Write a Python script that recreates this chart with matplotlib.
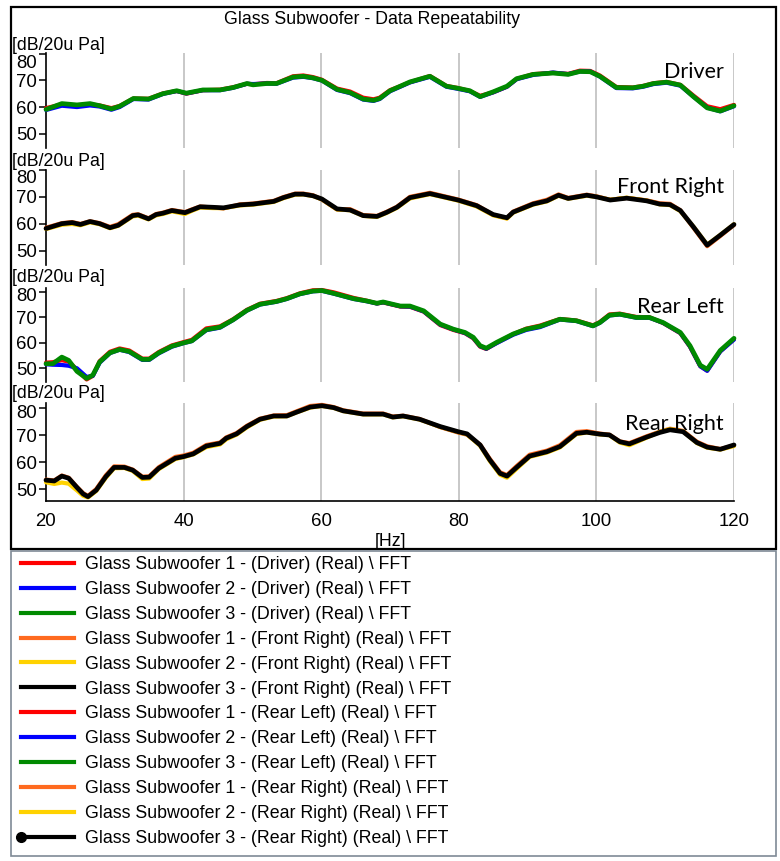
import matplotlib
matplotlib.use("Agg")
import matplotlib.pyplot as plt
from matplotlib.lines import Line2D
from matplotlib.patches import Rectangle
from matplotlib.legend_handler import HandlerLine2D
from matplotlib.transforms import ScaledTranslation

# ---------------- data ----------------
freq_driver = [20, 22.3, 24.5, 26.4, 27.8, 29.5, 30.7, 32.7, 34.9, 37, 39, 40.4, 42.8, 45.3, 47.2, 49.2, 50.1,
               52.1, 53.5, 55.9, 57.4, 58.8, 60.1, 62.3, 64.2, 66.1, 67.6, 68.5, 70, 71.5, 72.9, 75.8, 78.2,
               79.9, 81.6, 83.1, 85, 87, 88.4, 90.8, 93.7, 95.9, 97.6, 99.1, 100.5, 102.9, 105.3, 106.8,
               108.3, 110.2, 112.2, 114.1, 116.1, 118, 120]
driver_1 = [59.6, 61.0, 60.5, 61.0, 60.6, 59.6, 60.4, 63.2, 63.1, 65.1, 66.0, 65.0, 66.3, 66.5, 67.4, 68.7, 68.5,
            69.0, 68.9, 71.5, 71.8, 71.2, 70.2, 66.9, 65.8, 63.5, 62.9, 63.5, 66.3, 67.8, 69.3, 71.6, 67.9,
            67.1, 66.0, 64.2, 65.5, 67.6, 70.5, 72.3, 72.8, 72.4, 73.6, 73.5, 71.8, 67.5, 67.3, 67.9,
            68.9, 69.4, 68.3, 64.3, 60.3, 59.2, 60.8]
driver_2 = [58.9, 60.5, 60.0, 60.6, 60.2, 59.0, 60.0, 63.0, 62.8, 64.9, 66.0, 65.1, 66.3, 66.3, 67.2, 68.7, 68.6,
            68.8, 68.7, 71.0, 71.3, 70.8, 69.9, 66.4, 65.2, 62.8, 62.3, 63.0, 65.9, 67.6, 69.2, 71.3, 67.6,
            66.8, 65.9, 63.8, 65.5, 67.6, 70.4, 72.0, 72.9, 72.3, 73.3, 73.3, 71.4, 67.1, 67.0, 67.6,
            68.6, 69.1, 68.0, 63.9, 59.8, 58.4, 60.3]
driver_3 = [59.1, 61.3, 60.8, 61.3, 60.5, 59.3, 60.3, 63.2, 63.0, 65.0, 66.1, 65.2, 66.4, 66.4, 67.3, 68.8, 68.3,
            68.8, 68.8, 71.2, 71.5, 70.9, 70.0, 66.6, 65.4, 63.0, 62.5, 63.2, 66.1, 67.8, 69.4, 71.5, 67.8,
            67.0, 66.1, 63.9, 65.7, 67.8, 70.6, 72.2, 72.7, 72.2, 73.3, 73.2, 71.5, 67.3, 67.2, 67.8,
            68.8, 69.3, 68.2, 63.9, 59.7, 58.5, 60.5]

freq_front_right = [20, 22.3, 23.8, 25, 26.4, 27.8, 29.3, 30.5, 32.6, 33.4, 34.9, 36, 37, 38.3, 40.2, 41.2, 42.4,
                    44.3, 45.8, 48.2, 50.1, 51.6, 53.1, 54.5, 56.2, 57.4, 58.8, 60.1, 62.3, 64.2, 66.1, 68.1,
                    69.5, 71, 72.9, 75.8, 79.9, 82.6, 85, 87, 87.9, 90.8, 92.8, 94.5, 95.9, 98.6, 100, 102,
                    104.4, 107.3, 109.2, 110.7, 112.2, 114.1, 116.1, 118, 120]
front_right_1 = [58.5, 60.2, 60.6, 59.9, 60.9, 60.2, 58.8, 59.8, 63.3, 63.5, 62.0, 63.6, 64.1, 65.1, 64.3, 65.3,
                 66.4, 66.0, 65.7, 67.2, 67.5, 68.0, 68.5, 69.9, 71.2, 71.2, 70.6, 69.0, 65.3, 65.4, 63.2, 62.9,
                 64.4, 66.3, 70.0, 71.5, 69.0, 66.9, 63.3, 62.0, 64.5, 67.6, 68.9, 70.9, 69.6, 70.8, 70.2,
                 68.9, 69.6, 68.7, 67.6, 67.4, 65.0, 58.5, 51.6, 55.4, 59.5]
front_right_2 = [58.0, 59.6, 59.9, 59.4, 60.5, 59.8, 58.3, 59.2, 62.7, 63.0, 61.6, 63.1, 63.6, 64.6, 63.6, 64.8,
                 66.0, 65.8, 65.8, 66.8, 67.1, 67.6, 68.1, 69.5, 70.8, 70.9, 70.3, 69.1, 65.3, 65.0, 62.9, 62.5,
                 64.0, 65.9, 69.4, 71.0, 68.6, 66.4, 63.1, 61.9, 64.1, 67.1, 68.3, 70.4, 69.3, 70.4, 70.0,
                 68.9, 69.7, 68.6, 67.2, 66.9, 64.7, 58.9, 52.2, 55.8, 59.8]
front_right_3 = [58.2, 60.0, 60.4, 59.7, 60.8, 60.0, 58.5, 59.4, 63.0, 63.3, 61.8, 63.4, 63.9, 64.9, 64.1, 65.1,
                 66.3, 66.1, 65.9, 67.0, 67.3, 67.8, 68.3, 69.7, 71.0, 71.0, 70.4, 69.2, 65.5, 65.1, 63.0, 62.7,
                 64.2, 66.1, 69.7, 71.2, 68.8, 66.7, 63.4, 62.2, 64.3, 67.3, 68.5, 70.6, 69.4, 70.6, 70.0,
                 68.8, 69.5, 68.5, 67.3, 67.1, 64.9, 58.8, 52.0, 55.7, 59.7]

freq_rear_left = [20, 21, 22.3, 23.3, 24.5, 25.9, 26.8, 27.8, 29.3, 30.7, 32.1, 34, 35, 36.4, 38.3, 40, 41.2,
                  43.3, 45.3, 47.2, 49.2, 51.1, 53.5, 55, 56.9, 58.8, 60.1, 61.8, 64.7, 66.6, 68.1, 69, 71.5,
                  72.9, 74.9, 77.3, 79.2, 80.9, 82.1, 83.1, 84, 85.5, 87.9, 89.8, 91.8, 94.7, 97.1, 99.5,
                  100.5, 101.9, 103.4, 105.8, 107.7, 109.7, 112.2, 113.6, 115.1, 116.1, 118, 120]
rear_left_1 = [52.2, 52.4, 53.2, 52.6, 49.5, 45.6, 47.0, 52.8, 56.5, 57.8, 57.0, 53.8, 53.8, 56.4, 59.0, 60.3,
               61.2, 65.7, 66.5, 69.3, 73.0, 75.4, 76.5, 77.6, 79.5, 80.7, 80.8, 79.9, 77.7, 76.6, 75.5, 75.9,
               74.3, 74.2, 72.3, 67.0, 65.1, 63.8, 61.8, 58.5, 57.6, 60.0, 63.4, 65.6, 66.8, 69.4, 68.8, 66.9,
               68.2, 71.2, 71.5, 70.2, 70.1, 67.8, 63.8, 58.5, 50.8, 49.1, 56.7, 61.5]
rear_left_2 = [51.6, 51.4, 51.3, 51.0, 50.0, 46.6, 47.0, 52.2, 56.0, 57.3, 56.4, 53.3, 53.3, 55.9, 58.5, 59.9,
               60.7, 65.0, 66.0, 69.0, 72.7, 75.1, 76.2, 77.3, 79.2, 80.3, 80.5, 79.4, 77.3, 76.4, 75.5, 76.0,
               74.4, 74.3, 72.4, 67.2, 65.3, 63.9, 62.0, 58.7, 57.7, 59.9, 63.2, 65.1, 66.2, 69.2, 68.6, 66.6,
               67.9, 70.8, 71.2, 69.9, 69.9, 67.9, 63.9, 58.6, 50.8, 49.0, 56.6, 61.3]
rear_left_3 = [51.8, 51.8, 54.4, 53.1, 48.8, 46.0, 47.3, 52.5, 56.1, 57.4, 56.6, 53.5, 53.5, 56.1, 58.7, 60.0,
               60.8, 65.2, 66.2, 69.1, 72.8, 75.2, 76.3, 77.4, 79.3, 80.4, 80.6, 79.5, 77.4, 76.5, 75.6, 76.1,
               74.5, 74.5, 72.6, 67.4, 65.4, 64.1, 62.2, 58.9, 57.9, 60.2, 63.5, 65.4, 66.5, 69.3, 68.7, 66.7,
               68.0, 70.9, 71.3, 70.0, 70.0, 68.0, 64.1, 58.9, 51.2, 49.6, 57.0, 61.8]

freq_rear_right = [20, 21.2, 22.3, 23.3, 24.5, 25.4, 26.1, 27.3, 28.7, 29.9, 31.4, 32.6, 34, 35, 36.4, 38.8, 40,
                   41.4, 43.3, 45.3, 46.2, 47.7, 49.2, 51.1, 53.1, 55, 56.4, 58.4, 60.1, 61.8, 63.2, 66.1, 69,
                   70.4, 71.9, 74.3, 77.3, 79.9, 81.2, 83.1, 84.5, 86, 87, 88.4, 90.3, 92.8, 94.7, 97.1, 98.6,
                   100.5, 101.9, 103.4, 104.8, 107.3, 109.2, 110.7, 112.6, 114.6, 116.1, 118, 120]
rear_right_1 = [53.6, 53.3, 55.1, 54.3, 50.9, 48.6, 47.6, 50.1, 55.2, 58.5, 58.4, 57.3, 54.7, 54.8, 58.2, 62.0,
                62.5, 63.5, 66.4, 67.3, 69.2, 70.8, 73.5, 76.1, 77.3, 77.4, 78.8, 80.8, 81.2, 80.4, 79.2, 78.0,
                78.0, 76.9, 77.2, 76.0, 73.0, 71.0, 70.2, 66.5, 61.3, 56.3, 55.3, 58.6, 62.8, 64.3, 66.3, 71.2,
                71.5, 70.6, 70.2, 67.7, 67.1, 69.6, 71.3, 72.4, 71.6, 67.6, 65.9, 64.9, 66.2]
rear_right_2 = [52.6, 52.0, 52.5, 52.1, 49.6, 47.6, 47.0, 49.4, 54.3, 57.8, 57.9, 56.8, 53.8, 54.0, 57.5, 61.2,
                61.9, 62.9, 65.6, 66.6, 68.5, 70.2, 72.9, 75.7, 76.9, 77.0, 78.4, 80.2, 80.8, 80.1, 78.9, 77.7,
                77.7, 76.6, 77.0, 75.8, 73.1, 71.2, 70.3, 66.1, 60.5, 55.4, 54.3, 57.6, 62.0, 63.6, 65.5, 70.4,
                71.0, 70.3, 70.0, 67.3, 66.3, 69.1, 71.2, 72.3, 71.4, 67.1, 65.4, 64.7, 66.0]
rear_right_3 = [53.4, 53.1, 54.9, 54.1, 50.7, 48.3, 47.3, 49.7, 54.7, 58.1, 58.1, 57.1, 54.4, 54.5, 57.8, 61.5,
                62.1, 63.1, 66.0, 67.0, 68.9, 70.5, 73.2, 75.9, 77.1, 77.1, 78.5, 80.4, 80.9, 80.2, 79.0, 77.8,
                77.8, 76.7, 77.1, 75.9, 73.2, 71.3, 70.5, 66.4, 60.9, 55.9, 54.9, 58.1, 62.3, 63.9, 65.8, 70.7,
                71.1, 70.4, 70.1, 67.6, 66.8, 69.3, 71.0, 72.0, 71.3, 67.3, 65.6, 64.8, 66.4]

panel_names = ["Driver", "Front Right", "Rear Left", "Rear Right"]
y_ticks = [50, 60, 70, 80]
x_ticks = [20, 40, 60, 80, 100, 120]
y_unit = "[dB/20u Pa]"
x_unit = "[Hz]"
title = "Glass Subwoofer - Data Repeatability"

# ---------------- styling ----------------
W, H = 780, 861
FONT = "Liberation Sans"
FS = 12.8
RED, BLUE, GREEN = "#ff0000", "#0000ff", "#008a00"
ORANGE, YELLOW, BLACK = "#ff6a1f", "#ffd200", "#000000"

panels = [
    (freq_driver, [driver_1, driver_2, driver_3], [RED, BLUE, GREEN], (53, 148), (44.7, 80.2), 78, 8),
    (freq_front_right, [front_right_1, front_right_2, front_right_3], [ORANGE, YELLOW, BLACK], (170, 265), (44.6, 80.0), 193, 7),
    (freq_rear_left, [rear_left_1, rear_left_2, rear_left_3], [RED, BLUE, GREEN], (288, 382), (44.6, 81.6), 313, 2),
    (freq_rear_right, [rear_right_1, rear_right_2, rear_right_3], [ORANGE, YELLOW, BLACK], (403, 501), (45.7, 81.9), 430, 3),
]
ylabel_y = [45, 161, 278, 393]

fig = plt.figure(figsize=(W / 100, H / 100), dpi=100)
plt.rcParams["font.family"] = [FONT, "DejaVu Sans"]

def fx(px):
    return px / W

def fy(py):
    return 1 - py / H

# outer frame + legend box
fig.patches.append(Rectangle((fx(11), fy(549)), fx(776) - fx(11), fy(7) - fy(549),
                             transform=fig.transFigure, fill=False, ec="black", lw=1.6))
fig.patches.append(Rectangle((fx(11), fy(856)), fx(776) - fx(11), fy(551) - fy(856),
                             transform=fig.transFigure, fill=False, ec="#7f8a96", lw=1.2))

x0, x1 = 46, 734
for i, (f, series, cols, (top, bot), ylim, base, shift80) in enumerate(panels):
    ax = fig.add_axes([fx(x0), fy(bot), fx(x1) - fx(x0), fy(top) - fy(bot)])
    for j, (s, c) in enumerate(zip(series, cols)):
        ax.plot(f, s, color=c, lw=3.0 if j < 2 else 3.4, solid_joinstyle="round",
                solid_capstyle="round", zorder=3 + j, clip_on=False)
    ax.set_xlim(20, 120)
    ax.set_ylim(*ylim)
    ax.set_yticks(y_ticks)
    ax.set_xticks(x_ticks)
    for xv in x_ticks[1:]:
        ax.axvline(xv, color="#c4c4c4", lw=1.3, zorder=1)
    for sp in ["top", "right"]:
        ax.spines[sp].set_visible(False)
    ax.spines["left"].set_linewidth(1.2)
    ax.tick_params(axis="y", direction="out", length=5, width=1.1, pad=1.5, labelsize=FS + 0.6)
    if i < 3:
        ax.spines["bottom"].set_visible(False)
        ax.tick_params(axis="x", length=0, labelbottom=False)
    else:
        ax.spines["bottom"].set_linewidth(1.2)
        ax.tick_params(axis="x", length=0, pad=9, labelsize=FS + 0.6)
    ax.patch.set_alpha(0)
    # the topmost label sits slightly below its tick, as in the reference
    lab80 = ax.get_yticklabels()[-1]
    lab80.set_transform(lab80.get_transform() + ScaledTranslation(0, -shift80 / 100, fig.dpi_scale_trans))
    fig.text(fx(12), fy(ylabel_y[i]), y_unit, ha="left", va="center", fontsize=FS)
    fig.text(fx(724), fy(base), panel_names[i], ha="right", va="baseline",
             fontsize=15.5, family=["Lato", "DejaVu Sans"])

fig.text(fx(372), fy(20), title, ha="center", va="center", fontsize=FS)
fig.text(fx(390), fy(541), x_unit, ha="center", va="center", fontsize=FS)

# legend
labels = []
colors = []
for name, cs in zip(["Driver", "Front Right", "Rear Left", "Rear Right"],
                    [[RED, BLUE, GREEN], [ORANGE, YELLOW, BLACK], [RED, BLUE, GREEN], [ORANGE, YELLOW, BLACK]]):
    for k in range(3):
        labels.append(f"Glass Subwoofer {k + 1} - ({name}) (Real) \\ FFT")
        colors.append(cs[k])


class LeftMarkerHandler(HandlerLine2D):
    def create_artists(self, legend, orig_handle, xdescent, ydescent, width, height, fontsize, trans):
        arts = super().create_artists(legend, orig_handle, xdescent, ydescent, width, height, fontsize, trans)
        for a in arts:
            if a.get_marker() not in (None, "None", "", " "):
                a.set_markevery([0])
        return arts


handles = []
for n, c in enumerate(colors):
    if n == len(colors) - 1:
        h = Line2D([], [], color=c, lw=3.0, marker="o", markersize=7)
    else:
        h = Line2D([], [], color=c, lw=3.0)
    handles.append(h)
leg = fig.legend(handles, labels, loc="upper left", bbox_to_anchor=(fx(16), fy(556)),
                 frameon=False, fontsize=FS, handlelength=3.55, handletextpad=0.35,
                 labelspacing=0.445, borderpad=0, borderaxespad=0, numpoints=2,
                 handler_map={handles[-1]: LeftMarkerHandler()})

fig.savefig("out.png", dpi=100)
